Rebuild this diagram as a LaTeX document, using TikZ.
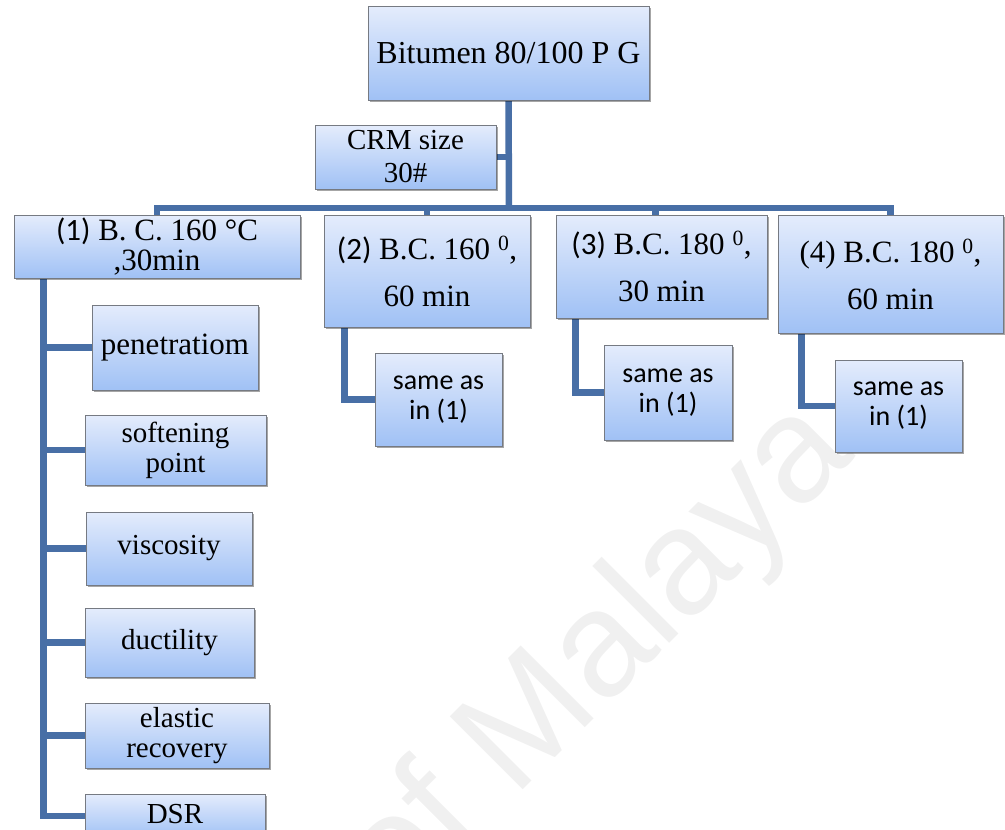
\documentclass[tikz,border=0pt]{standalone}
\usepackage{fontspec}
\setmainfont{Liberation Serif}
\newfontfamily\calib{Carlito}
\newfontfamily\wmfont{Liberation Sans}
\usetikzlibrary{shadows}
\definecolor{boxtop}{RGB}{228,236,252}
\definecolor{boxbot}{RGB}{160,193,245}
\definecolor{boxline}{RGB}{118,122,130}
\definecolor{linkblue}{RGB}{72,111,166}
\definecolor{wmgray}{RGB}{240,240,240}
\pgfdeclarelayer{background}
\pgfsetlayers{background,main}

\begin{document}
\begin{tikzpicture}[x=1pt,y=-1pt,
  box/.style={rectangle, draw=boxline, line width=1pt,
    top color=boxtop, bottom color=boxbot,
    drop shadow={shadow xshift=1.5pt, shadow yshift=-1.5pt, fill=black, opacity=0.35},
    align=center, inner sep=0pt},
  conn/.style={draw=linkblue, line width=6.5pt},
  big/.style={font=\fontsize{32}{34}\selectfont},
  mid/.style={font=\fontsize{29}{33}\selectfont},
  cond/.style={font=\fontsize{31}{47}\selectfont},
  first/.style={font=\fontsize{31}{30}\selectfont},
  test/.style={font=\fontsize{29}{30}\selectfont},
  same/.style={font=\calib\fontsize{28}{30}\selectfont},
]
\useasboundingbox (0,0) rectangle (1005,830);

% top of the tree
\node[box, big, minimum width=281pt, minimum height=94pt] (top) at (508.5,53) {Bitumen 80/100 P G};
\node[box, mid, minimum width=181pt, minimum height=64pt] (crm) at (405.5,157) {CRM size\\30\#};

% blending conditions
\node[box, first, minimum width=286pt, minimum height=63pt] (b1) at (157,246.5)
  {{\calib(1)} B. C. 160 °C\\,30min};
\node[box, cond, minimum width=206pt, minimum height=112pt] (b2) at (427,271)
  {{\calib(2)} B.C. 160 \textsuperscript{0},\\60 min};
\node[box, cond, minimum width=211pt, minimum height=103pt] (b3) at (661.5,266.5)
  {{\calib(3)} B.C. 180 \textsuperscript{0},\\30 min};
\node[box, cond, minimum width=225pt, minimum height=118pt] (b4) at (890.5,274)
  {(4) B.C. 180 \textsuperscript{0},\\60 min};

% references back to the first set of tests
\node[box, same, minimum width=127pt, minimum height=93pt] (s2) at (438.5,399.5) {same as\\in (1)};
\node[box, same, minimum width=128pt, minimum height=95pt] (s3) at (668,392.5) {same as\\in (1)};
\node[box, same, minimum width=127pt, minimum height=92pt] (s4) at (898.5,406) {same as\\in (1)};

% tests on binder (1)
\node[box, font=\fontsize{31}{30}\selectfont, minimum width=166pt, minimum height=85pt] (pen) at (175,347.5) {penetratiom};
\node[box, test, minimum width=181pt, minimum height=70pt] (soft) at (175.5,450) {softening\\point};
\node[box, test, minimum width=166pt, minimum height=73pt] (visc) at (169,548.5) {viscosity};
\node[box, test, minimum width=169pt, minimum height=69pt] (duct) at (169.5,642.5) {ductility};
\node[box, test, minimum width=184pt, minimum height=65pt] (elas) at (177,735.5) {elastic\\recovery};
\node[box, test, minimum width=180pt, minimum height=44pt] (dsr) at (175,816) {\raisebox{5pt}{DSR}};

\begin{pgfonlayer}{background}
  % watermark
  \node[font=\wmfont\fontsize{150}{150}\selectfont, text=wmgray, rotate=45,
        anchor=base west, inner sep=0pt] (mark) at (397,916) {of Malaya};

  % main trunk and bus
  \coordinate (bus) at (509,208);
  \draw[conn] (top.south) -- (bus);
  \draw[conn] (crm.east) -- (crm.east -| bus);
  \draw[conn] (b1.north) |- (bus) -| (b4.north);
  \draw[conn] (b2.north) |- (bus);
  \draw[conn] ([xshift=-6pt]b3.north) |- (bus);

  % tests under (1)
  \foreach \t in {pen,soft,visc,duct,elas,dsr}
    \draw[conn] ([xshift=30pt]b1.south west) |- (\t.west);

  % references under (2)-(4)
  \draw[conn] ([xshift=21pt]b2.south west) |- (s2.west);
  \draw[conn] ([xshift=20pt]b3.south west) |- (s3.west);
  \draw[conn] ([xshift=24pt]b4.south west) |- (s4.west);
\end{pgfonlayer}
\end{tikzpicture}
\end{document}
